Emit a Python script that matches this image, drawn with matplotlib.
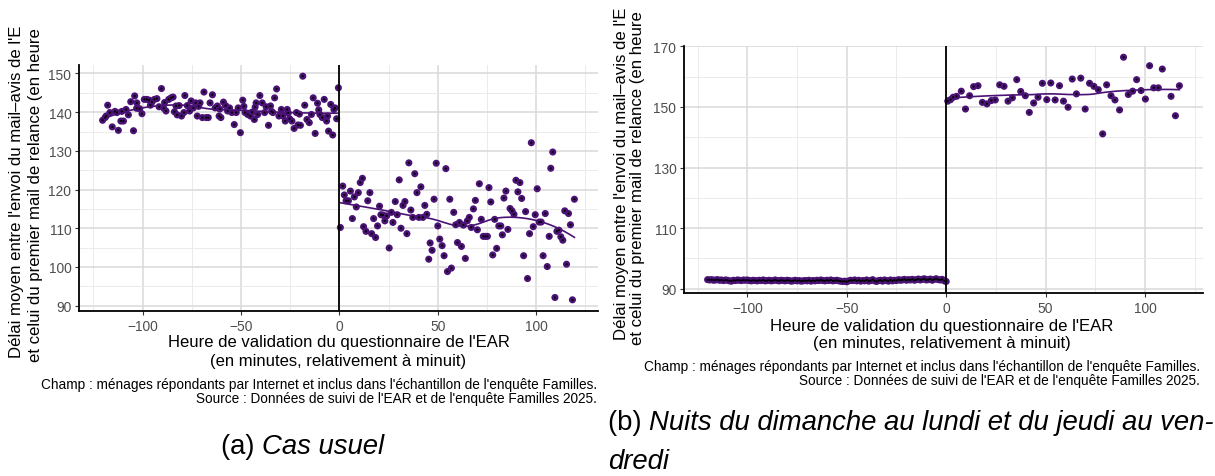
import numpy as np
import matplotlib
matplotlib.use("Agg")
import matplotlib.pyplot as plt
from matplotlib.ticker import MultipleLocator, FixedLocator

plt.rcParams['font.family'] = ['Liberation Sans', 'DejaVu Sans']

# ---------------- DATA ----------------
# Panel (a) Cas usuel : before midnight
a_left_x = [-120.3, -119, -117.7, -116.6, -115.4, -114, -113, -112.3, -111, -109.7, -108.4, -107.2,
            -106, -104.6, -104, -102.9, -101.5, -100.3, -99.1, -97.8, -96.6, -95.2, -94, -92.7,
            -91.6, -90.4, -89.2, -88.1, -86.7, -85.5, -84.5, -83.8, -82.4, -81.4, -80.2, -79,
            -78.5, -77.3, -76.1, -75.3, -74.2, -73, -72.2, -70.8, -69.6, -68.8, -67.6, -66.6,
            -65.7, -64.5, -63.1, -62, -61.1, -60.2, -58.9, -57.8, -56.8, -55.8, -54.6, -53.4,
            -52.4, -51.4, -50.3, -49.1, -47.9, -46.6, -45.2, -44.4, -43.2, -42.3, -41.5, -40.4,
            -39.2, -38, -37.2, -36, -35, -33.8, -32.9, -31.9, -30.7, -29.5, -28.7, -27.5,
            -26.5, -25.3, -24.1, -23, -21.8, -21, -19.8, -18.6, -17.6, -16.5, -15.3, -14.2,
            -13.3, -12.3, -11.1, -9.9, -8.7, -7.7, -6.5, -5.5, -4.4, -3.4, -2.2, -1.4, -0.5,
            -118.5, -110.5, -103, -96, -88.8, -83, -71.5, -60.8, -48.5, -42.8, -34.5, -26,
            -20.3, -10.5, -6, -2.8]
a_left_y = [137.9, 138.6, 141.8, 139.9, 136.2, 140.2, 139.9, 135.3, 137.7, 137.7, 140.7, 139.3,
            142.7, 135.2, 144.2, 142.4, 140.9, 139.6, 143.3, 143.3, 143.1, 142.6, 143.3, 143.5,
            141.4, 146.1, 141.0, 140.3, 143.3, 143.7, 143.9, 140.1, 139.3, 141.7, 139.0, 139.9,
            144.3, 141.7, 140.3, 142.9, 141.1, 142.4, 139.0, 142.4, 138.6, 145.2, 138.6, 138.6,
            142.4, 144.5, 141.1, 141.6, 139.0, 138.6, 142.6, 141.7, 140.3, 141.1, 139.9, 136.8,
            139.9, 141.1, 134.7, 143.1, 139.9, 139.4, 139.0, 140.0, 138.1, 142.4, 139.4, 144.3,
            142.4, 139.9, 141.4, 136.6, 141.6, 139.9, 143.7, 146.0, 139.0, 140.7, 139.0, 137.7,
            140.7, 138.3, 137.7, 135.8, 139.9, 136.7, 136.6, 149.3, 141.8, 138.1, 137.3, 139.4,
            143.7, 134.5, 142.3, 139.4, 138.6, 143.3, 137.7, 135.1, 142.0, 134.1, 141.1, 138.3,
            146.3,
            139.0, 140.2, 141.0, 141.8, 142.5, 141.6, 141.5, 140.8, 141.5, 141.3, 140.2, 139.8,
            139.5, 140.6, 139.0, 140.7]

# Panel (a) Cas usuel : after midnight
a_right_x = [0.5, 1.7, 2.5, 3.4, 4.6, 5.6, 6.6, 7.6, 8.6, 9.6, 10.6, 11.7, 12.3, 13.5, 14.4, 15.5,
             16.4, 17.4, 18.4, 19.4, 20.4, 21.1, 22.1, 23.1, 24, 25.3, 26.4, 27.2, 28.4, 29.4,
             30.4, 31.3, 32.3, 33.3, 34.3, 35.3, 36.3, 37.3, 38.3, 39.4, 40.4, 41.4, 42.4, 43.4,
             44.4, 45.4, 46.1, 47.1, 48.1, 49.2, 50, 51, 52.2, 53.2, 54.1, 54.9, 56.1, 56.9,
             58.1, 59.1, 60, 61, 62, 63, 64, 65, 66, 67, 68.1, 69.1, 70.1, 71.1, 72.1, 73.1,
             74.2, 75.2, 76, 76.9, 77.9, 78.9, 79.9, 81, 82, 82.8, 83.6, 84.6, 85.6, 86.7, 87.7,
             88.7, 89.7, 90.7, 91.7, 92.6, 93.6, 94.6, 95.6, 96.6, 97.5, 98.5, 99.5, 100.5,
             101.5, 102.5, 103.5, 104.6, 105.6, 106.6, 107.4, 108.4, 109.5, 110.5, 111.5,
             112.5, 113.5, 114.5, 115.4, 116.4, 117.4, 118.4, 119.4]
a_right_y = [110.2, 120.9, 118.6, 117.1, 117.1, 119.6, 112.5, 118.1, 115.5, 119.2, 121.8, 122.9,
             110.4, 109.2, 117.1, 119.2, 108.6, 112.5, 107.6, 110.6, 115.7, 113.5, 113.4, 111.9,
             113.2, 104.9, 114.1, 111.5, 116.9, 113.5, 122.5, 110.0, 115.9, 116.9, 108.6, 126.9,
             114.7, 112.8, 124.1, 119.2, 112.8, 120.7, 112.8, 115.9, 113.6, 102.0, 106.2, 104.3,
             117.5, 126.8, 110.6, 107.2, 105.5, 102.9, 125.4, 98.8, 117.5, 99.7, 114.1, 110.9,
             106.3, 111.5, 105.3, 110.8, 102.2, 111.9, 112.8, 110.2, 115.0, 117.2, 109.6, 121.5,
             112.3, 107.9, 107.9, 107.9, 120.5, 116.8, 103.1, 112.3, 104.8, 110.6, 110.6, 108.3,
             117.8, 119.6, 109.7, 115.1, 114.5, 113.6, 122.4, 119.4, 121.8, 117.7, 102.9, 114.3,
             97.0, 108.6, 132.1, 110.4, 113.5, 120.2, 111.6, 111.6, 102.9, 113.8, 100.1, 107.9,
             125.5, 129.7, 92.1, 109.2, 109.5, 107.8, 106.9, 114.5, 100.7, 113.8, 110.9, 91.5,
             117.5]

# Panel (b) Nuits du dimanche au lundi et du jeudi au vendredi : before midnight
b_left_x = [-120, -119, -118, -117, -116, -115, -114, -113, -112, -111,
            -110, -109, -108, -107, -106, -105, -104, -103, -102, -101,
            -100, -99, -98, -97, -96, -95, -94, -93, -92, -91,
            -90, -89, -88, -87, -86, -85, -84, -83, -82, -81,
            -80, -79, -78, -77, -76, -75, -74, -73, -72, -71,
            -70, -69, -68, -67, -66, -65, -64, -63, -62, -61,
            -60, -59, -58, -57, -56, -55, -54, -53, -52, -51,
            -50, -49, -48, -47, -46, -45, -44, -43, -42, -41,
            -40, -39, -38, -37, -36, -35, -34, -33, -32, -31,
            -30, -29, -28, -27, -26, -25, -24, -23, -22, -21,
            -20, -19, -18, -17, -16, -15, -14, -13, -12, -11,
            -10, -9, -8, -7, -6, -5, -4, -3, -2, -1, 0]
b_left_y = [93.0, 92.9, 93.0, 92.8, 92.9, 93.0, 92.8, 92.9, 92.7, 92.9,
            92.8, 92.6, 92.5, 92.8, 92.7, 92.9, 92.8, 92.7, 92.9, 92.8,
            92.9, 92.7, 92.6, 92.8, 92.7, 92.6, 92.8, 92.7, 92.9, 92.6,
            92.7, 92.8, 92.6, 92.7, 92.9, 92.7, 92.6, 92.8, 92.7, 92.6,
            92.8, 92.7, 92.5, 92.6, 92.8, 92.6, 92.7, 92.5, 92.6, 92.7,
            92.6, 92.8, 92.5, 92.7, 92.6, 92.8, 92.7, 92.9, 92.7, 92.6,
            92.8, 92.7, 92.9, 92.6, 92.7, 92.8, 92.6, 92.5, 92.4, 92.5,
            92.3, 92.6, 92.8, 92.7, 92.9, 92.6, 92.8, 92.5, 92.7, 92.6,
            92.9, 92.5, 92.7, 93.0, 92.6, 92.4, 92.7, 92.8, 92.5, 92.9,
            92.7, 92.5, 92.9, 92.6, 92.8, 92.7, 93.0, 92.8, 92.9, 93.1,
            92.8, 93.0, 92.9, 93.1, 92.8, 93.0, 93.2, 92.9, 93.1, 93.3,
            92.9, 93.0, 93.2, 92.8, 93.1, 93.3, 93.0, 92.9, 93.1, 92.6, 92.4]

# Panel (b) : after midnight
b_right_x = [0.8, 2.2, 3.5, 5.2, 7.6, 9.7, 11.8, 13.8, 16, 18.2, 20.5, 22.7, 24.7, 26.9, 29.1,
             31.1, 33.3, 35.5, 37.5, 39.8, 41.8, 44, 46.2, 48.4, 50.6, 52.6, 54.8, 57, 59,
             61.3, 63.4, 65.5, 67.7, 69.9, 72.1, 74.3, 76.5, 78.7, 80.7, 82.9, 84.9, 87.2,
             89.2, 91.6, 93.8, 95.8, 98, 100.2, 102.3, 104.4, 106.7, 108.7, 113.1, 115.3, 117.3]
b_right_y = [151.9, 152.4, 153.2, 153.5, 155.2, 149.3, 153.7, 156.7, 157.0, 151.5, 151.0, 152.1,
             152.3, 157.3, 156.8, 151.9, 153.0, 159.0, 155.1, 153.7, 148.2, 151.3, 153.2, 157.8,
             152.4, 157.9, 152.3, 157.0, 151.9, 149.9, 159.2, 154.3, 159.5, 149.3, 157.8, 156.8,
             155.7, 141.1, 157.3, 153.7, 152.3, 149.0, 166.4, 154.1, 155.2, 159.0, 155.4, 152.6,
             163.6, 156.3, 156.3, 162.5, 153.5, 147.1, 157.0]

x_ticks = [-100, -50, 0, 50, 100]
x_ticklabels = ['\u2212100', '\u221250', '0', '50', '100']
a_y_ticks = [90, 100, 110, 120, 130, 140, 150]
b_y_ticks = [90, 110, 130, 150, 170]

ylab1 = "Délai moyen entre l'envoi du mail\u2013avis de l'E"
ylab2 = "et celui du premier mail de relance (en heure"
xlab1 = "Heure de validation du questionnaire de l'EAR"
xlab2 = "(en minutes, relativement à minuit)"
cap1 = "Champ : ménages répondants par Internet et inclus dans l'échantillon de l'enquête Familles."
cap2 = "Source : Données de suivi de l'EAR et de l'enquête Familles 2025."

PURPLE = '#4a1275'
W, H = 1215, 477


def loess(x, y, span=0.75, n=80):
    x = np.asarray(x, float)
    y = np.asarray(y, float)
    xs = np.linspace(x.min(), x.max(), n)
    k = int(np.ceil(span * len(x)))
    out = []
    for x0 in xs:
        d = np.abs(x - x0)
        h = np.sort(d)[k - 1]
        w = np.clip(1 - (d / h) ** 3, 0, None) ** 3
        p = np.polyfit(x, y, 2, w=np.sqrt(w))
        out.append(np.polyval(p, x0))
    return xs, np.array(out)


def expand(lo, hi, f=0.05):
    r = hi - lo
    return lo - f * r, hi + f * r


fig = plt.figure(figsize=(W / 100, H / 100), dpi=100)
fig.patch.set_facecolor('white')


def px_axes(left, top, right, bottom):
    return fig.add_axes([left / W, 1 - bottom / H, (right - left) / W, (bottom - top) / H])


def draw_panel(ax, xl, yl, xr, yr, yticks, yminor):
    for xs, ys in ((xl, yl), (xr, yr)):
        ax.scatter(xs, ys, s=26, color=PURPLE, edgecolors='none', zorder=3)
        sx, sy = loess(xs, ys)
        ax.plot(sx, sy, color=PURPLE, lw=1.2, zorder=4)
        ax.scatter(xs, ys, s=2.5, color='black', edgecolors='none', zorder=5)
    ax.axvline(0, color='black', lw=1.3, zorder=6)
    allx = list(xl) + list(xr)
    ally = list(yl) + list(yr)
    ax.set_xlim(*expand(min(allx), max(allx)))
    ax.set_ylim(*expand(min(ally), max(ally)))
    ax.xaxis.set_major_locator(FixedLocator(x_ticks))
    ax.set_xticklabels(x_ticklabels)
    ax.xaxis.set_minor_locator(FixedLocator([-125, -75, -25, 25, 75, 125]))
    ax.yaxis.set_major_locator(FixedLocator(yticks))
    ax.yaxis.set_minor_locator(MultipleLocator(yminor))
    ax.grid(which='major', color='#d9d9d9', lw=1.1, zorder=0)
    ax.grid(which='minor', color='#ebebeb', lw=0.7, zorder=0)
    ax.set_axisbelow(True)
    for s in ('top', 'right'):
        ax.spines[s].set_visible(False)
    for s in ('left', 'bottom'):
        ax.spines[s].set_color('black')
        ax.spines[s].set_linewidth(1.3)
    ax.tick_params(which='major', length=3, width=0.8, color='#333333',
                   labelcolor='#4d4d4d', labelsize=9.9, pad=2.5)
    ax.tick_params(which='minor', length=0)


axA = px_axes(79, 66, 598, 312)
draw_panel(axA, a_left_x, a_left_y, a_right_x, a_right_y, a_y_ticks, 5)
axB = px_axes(684, 47, 1203, 294)
draw_panel(axB, b_left_x, b_left_y, b_right_x, b_right_y, b_y_ticks, 10)

renderer = fig.canvas.get_renderer()


def ftext(x, y, s, **kw):
    return fig.text(x / W, 1 - y / H, s, **kw)


def fit(t, target, vertical=False):
    bb = t.get_window_extent(renderer)
    length = bb.height if vertical else bb.width
    t.set_fontsize(t.get_fontsize() * target / length)
    return t.get_fontsize()


# axis titles
for cx, y1, y2, target in ((338.5, 343, 361.7, 340), (942, 326.7, 343.3, 341.5)):
    t1 = ftext(cx, y1, xlab1, ha='center', va='center', fontsize=11, color='black')
    fs = fit(t1, target)
    ftext(cx, y2, xlab2, ha='center', va='center', fontsize=fs, color='black')

# y axis titles (clipped in the original)
for x1, yb1, x2, yb2 in ((17, 358, 35.5, 362), (621.7, 340, 637.5, 345)):
    t1 = ftext(x1, yb1, ylab1, rotation=90, rotation_mode='anchor', ha='left', va='center',
               fontsize=11, color='black')
    fs = fit(t1, 330, vertical=True)
    ftext(x2, yb2, ylab2, rotation=90, rotation_mode='anchor', ha='left', va='center',
          fontsize=fs, color='black')

# captions
for rx, y1, y2, target in ((597, 385, 399, 558), (1200, 367, 381, 555)):
    c1 = ftext(rx, y1, cap1, ha='right', va='center', fontsize=9, color='black')
    fs = fit(c1, target)
    ftext(rx, y2, cap2, ha='right', va='center', fontsize=fs, color='black')

# sub-captions
SUBFS = 19.8
ta = ftext(221, 447, '(a) ', ha='left', va='center', fontsize=SUBFS)
axA.annotate('Cas usuel', xy=(1, 0), xycoords=ta, ha='left', va='bottom',
             fontsize=SUBFS, style='italic', annotation_clip=False)
tb = ftext(608, 423, '(b) ', ha='left', va='center', fontsize=SUBFS)
axB.annotate('Nuits du dimanche au lundi et du jeudi au ven-', xy=(1, 0), xycoords=tb,
             ha='left', va='bottom', fontsize=SUBFS, style='italic', annotation_clip=False)
ftext(608, 462, 'dredi', ha='left', va='center', fontsize=SUBFS, style='italic')

fig.savefig('out.png', dpi=100, facecolor='white')
